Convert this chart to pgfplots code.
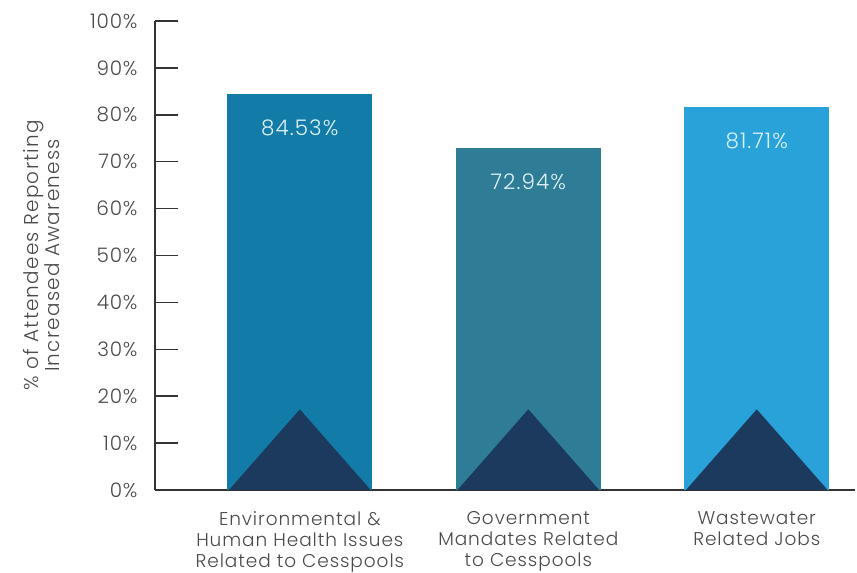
\documentclass[border=0pt]{standalone}
\usepackage{pgfplots}
\pgfplotsset{compat=1.18}
\usepackage{fontspec}
\setmainfont{Poppins}[UprightFont=* Light]
\definecolor{barA}{HTML}{127BA7}
\definecolor{barB}{HTML}{2E7C96}
\definecolor{barC}{HTML}{28A2D8}
\definecolor{tri}{HTML}{1B3A5D}
\definecolor{txt}{HTML}{4A4A4A}
\definecolor{axl}{HTML}{333333}
\definecolor{lab}{HTML}{DDF1F9}
\newcommand\ticfont{\fontsize{20bp}{22bp}\selectfont\addfontfeature{LetterSpace=4}}
\newcommand\xlabfont{\fontsize{18.5bp}{21bp}\selectfont\addfontfeature{LetterSpace=5}}
\newcommand\ylabfont{\fontsize{20bp}{20bp}\selectfont\addfontfeature{LetterSpace=6}}
\newcommand\valfont{\fontsize{21.5bp}{24bp}\selectfont\addfontfeature{LetterSpace=5}}
\begin{document}
\begin{tikzpicture}
\useasboundingbox (0,0) rectangle (857bp,573bp);
\begin{axis}[
  at={(155bp,83bp)}, anchor=south west,
  scale only axis, width=700bp, height=469bp,
  xmin=-0.634, xmax=2.43, ymin=0, ymax=100,
  axis lines*=left,
  axis line style={axl, line width=1.8bp},
  ytick={0,10,...,100},
  yticklabel={\pgfmathprintnumber{\tick}\%},
  /pgf/number format/assume math mode=true,
  tick align=inside,
  major tick length=23bp,
  major tick style={axl, line width=1.5bp},
  xtick={0,1,2},
  major x tick style={draw=none},
  xticklabels={{Environmental \&\\Human Health Issues\\Related to Cesspools},
               {Government\\Mandates Related\\to Cesspools},
               {Wastewater\\Related Jobs}},
  xticklabel style={align=center, text=txt, font=\xlabfont, anchor=north, yshift=-18bp},
  yticklabel style={text=txt, font=\ticfont, xshift=-14bp},
  ylabel={\% of Attendees Reporting\\Increased Awareness},
  ylabel style={at={(axis description cs:-0.162,0.5)}, anchor=center, align=center, text=txt, font=\ylabfont},
  clip=false,
]
\addplot[ybar, bar width=0.635, bar shift=0pt, fill=barA, draw=none,
  nodes near coords={\pgfmathprintnumber[fixed,precision=2,fixed zerofill]{\pgfplotspointmeta}\%},
  every node near coord/.append style={anchor=center, yshift=-34bp, text=lab, font=\valfont}]
  coordinates {(0,84.53)};
\addplot[ybar, bar width=0.635, bar shift=0pt, fill=barB, draw=none,
  nodes near coords={\pgfmathprintnumber[fixed,precision=2,fixed zerofill]{\pgfplotspointmeta}\%},
  every node near coord/.append style={anchor=center, yshift=-34bp, text=lab, font=\valfont}]
  coordinates {(1,72.94)};
\addplot[ybar, bar width=0.635, bar shift=0pt, fill=barC, draw=none,
  nodes near coords={\pgfmathprintnumber[fixed,precision=2,fixed zerofill]{\pgfplotspointmeta}\%},
  every node near coord/.append style={anchor=center, yshift=-34bp, text=lab, font=\valfont}]
  coordinates {(2,81.71)};
\addplot[fill=tri, draw=none] coordinates {(-0.31,0) (0,17.2) (0.31,0)} \closedcycle;
\addplot[fill=tri, draw=none] coordinates {(0.69,0) (1,17.2) (1.31,0)} \closedcycle;
\addplot[fill=tri, draw=none] coordinates {(1.69,0) (2,17.2) (2.31,0)} \closedcycle;
\end{axis}
\end{tikzpicture}
\end{document}
